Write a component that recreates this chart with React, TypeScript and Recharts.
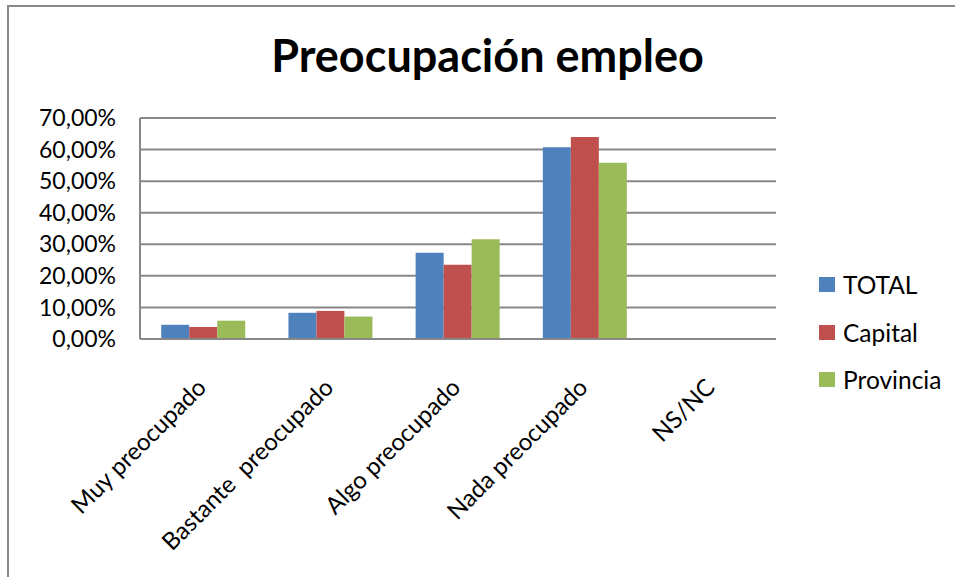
import React from 'react';
import { BarChart, Bar, XAxis, YAxis, CartesianGrid } from 'recharts';

const categories = ['Muy preocupado', 'Bastante  preocupado', 'Algo preocupado', 'Nada preocupado', 'NS/NC'];
const totalValues = [4.5, 8.3, 27.3, 60.7, 0];
const capitalValues = [3.8, 8.9, 23.5, 64.0, 0];
const provinciaValues = [5.8, 7.1, 31.6, 55.8, 0];
const yTicks = [0, 10, 20, 30, 40, 50, 60, 70];
const seriesNames = ['TOTAL', 'Capital', 'Provincia'];
const seriesColors = ['#4F81BD', '#C0504D', '#9BBB59'];

const data = categories.map((c, i) => ({
  name: c,
  TOTAL: totalValues[i],
  Capital: capitalValues[i],
  Provincia: provinciaValues[i],
}));

const FONT = 'Lato, "Open Sans", sans-serif';

const fmt = (v: number) => v.toFixed(2).replace('.', ',') + '%';

const XTick = (props: any) => {
  const { x, y, payload } = props;
  const ax = x + 4;
  const ay = y + 42;
  return (
    <text
      x={ax}
      y={ay}
      transform={`rotate(-45 ${ax} ${ay})`}
      textAnchor="end"
      fontFamily={FONT}
      fontSize={24}
      fill="#000"
      style={{ whiteSpace: 'pre' }}
    >
      {payload.value}
    </text>
  );
};

export default function App() {
  return (
    <div style={{ position: 'absolute', left: 0, top: 0, width: 955, height: 577, background: '#fff', overflow: 'hidden' }}>
      <div
        style={{
          position: 'absolute',
          left: 7,
          top: 5,
          width: 1000,
          height: 700,
          border: '2px solid #888',
          boxSizing: 'border-box',
        }}
      />
      <div
        style={{
          position: 'absolute',
          left: 0,
          width: 975,
          top: 28,
          textAlign: 'center',
          fontFamily: FONT,
          fontWeight: 700,
          fontSize: 45,
          color: '#000',
          lineHeight: '54px',
        }}
      >
        Preocupación empleo
      </div>
      <div style={{ position: 'absolute', left: 0, top: 0 }}>
        <BarChart
          width={955}
          height={577}
          data={data}
          margin={{ top: 118, right: 179, bottom: 38, left: 0 }}
          barCategoryGap="16.7%"
          barGap={0}
        >
          <CartesianGrid vertical={false} stroke="#888" strokeWidth={2} />
          <XAxis
            dataKey="name"
            height={200}
            tickLine={false}
            axisLine={{ stroke: '#888', strokeWidth: 2 }}
            interval={0}
            tick={<XTick />}
          />
          <YAxis
            width={140}
            domain={[0, 70]}
            ticks={yTicks}
            tickFormatter={fmt}
            tickLine={false}
            tickSize={0}
            tickMargin={24}
            axisLine={{ stroke: '#888', strokeWidth: 2 }}
            tick={{ fontFamily: FONT, fontSize: 23, fill: '#000' }}
          />
          {seriesNames.map((n, i) => (
            <Bar key={n} dataKey={n} fill={seriesColors[i]} isAnimationActive={false} />
          ))}
        </BarChart>
      </div>
      <div style={{ position: 'absolute', left: 819, top: 261, fontFamily: FONT, fontSize: 24.5, color: '#000' }}>
        {seriesNames.map((n, i) => (
          <div key={n} style={{ display: 'flex', alignItems: 'center', height: 47.5 }}>
            <div style={{ width: 16, height: 15, background: seriesColors[i], marginRight: 8 }} />
            <span>{n}</span>
          </div>
        ))}
      </div>
    </div>
  );
}
